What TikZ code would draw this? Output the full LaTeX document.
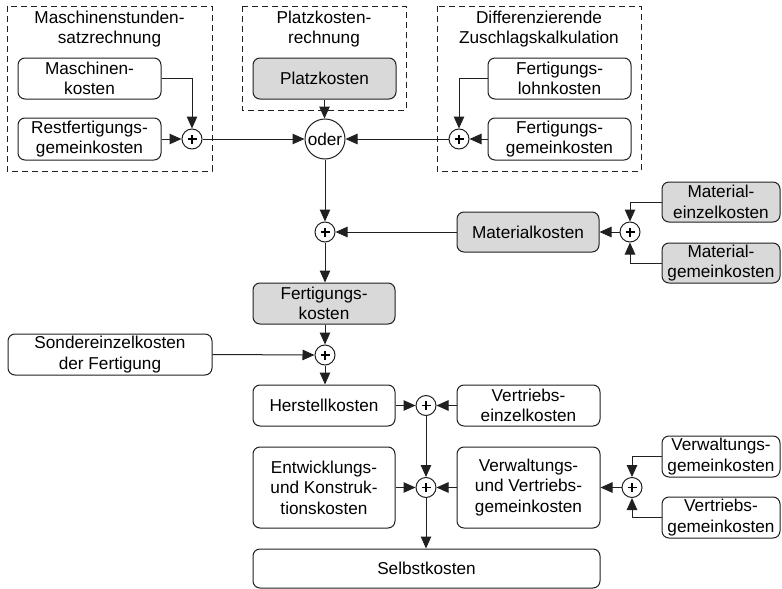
\documentclass[tikz,border=0pt]{standalone}
\usepackage{fontspec}
\setmainfont{Liberation Sans}
\usetikzlibrary{arrows.meta}
\definecolor{boxgray}{HTML}{D9D9D9}
\definecolor{linegray}{HTML}{202020}
\begin{document}
\begin{tikzpicture}[x=1pt,y=-1pt,
  every node/.style={font=\fontsize{17.2}{20.5}\selectfont, text=black},
  kbox/.style={draw=linegray, line width=1pt, rounded corners=7pt, align=center,
               inner sep=0pt, fill=white},
  gbox/.style={kbox, fill=boxgray},
  plus/.style={draw=linegray, line width=1pt, circle, minimum size=20pt, inner sep=0pt,
               fill=white,
               path picture={\draw[line width=1.5pt, black]
                 ([xshift=-4.5pt]path picture bounding box.center) -- ([xshift=4.5pt]path picture bounding box.center)
                 ([yshift=-4.5pt]path picture bounding box.center) -- ([yshift=4.5pt]path picture bounding box.center);}},
  group/.style={draw=linegray, line width=1pt, dash pattern=on 6pt off 4pt},
  title/.style={align=center, inner sep=0pt},
  conn/.style={draw=linegray, line width=1pt, -{Triangle[length=12pt,width=10.5pt]}},
]
\useasboundingbox (0,0) rectangle (782,589);

% dashed group frames with their titles
\draw[group] (7,6) rectangle (212,171);
\draw[group] (242,6) rectangle (406,110);
\draw[group] (437,6) rectangle (641,171);
\node[title] (t1) at (109.5,29) {Maschinenstunden-\\satzrechnung};
\node[title] (t2) at (324,29) {Platzkosten-\\rechnung};
\node[title] (t3) at (539,29) {Differenzierende\\Zuschlagskalkulation};

% cost boxes
\node[kbox, minimum width=143pt, minimum height=41pt] (mk) at (89.5,78.5) {Maschinen-\\kosten};
\node[kbox, minimum width=143pt, minimum height=42pt] (rf) at (89.5,139) {Restfertigungs-\\gemeinkosten};
\node[gbox, minimum width=143pt, minimum height=41pt] (pk) at (324.5,78.5) {Platzkosten};
\node[kbox, minimum width=143pt, minimum height=41pt] (fl) at (559.5,78.5) {Fertigungs-\\lohnkosten};
\node[kbox, minimum width=143pt, minimum height=42pt] (fg) at (559.5,139) {Fertigungs-\\gemeinkosten};

\node[gbox, minimum width=142pt, minimum height=40pt] (mat) at (528,232) {Materialkosten};
\node[gbox, minimum width=118pt, minimum height=40pt] (me) at (721,202) {Material-\\einzelkosten};
\node[gbox, minimum width=118pt, minimum height=40pt] (mg) at (721,263) {Material-\\gemeinkosten};

\node[gbox, minimum width=142pt, minimum height=41pt] (fk) at (324,303.5) {Fertigungs-\\kosten};
\node[kbox, minimum width=204pt, minimum height=41pt] (sk) at (110,354.5) {Sondereinzelkosten\\der Fertigung};

\node[kbox, minimum width=142pt, minimum height=41pt] (hk) at (324,405.5) {Herstellkosten};
\node[kbox, minimum width=143pt, minimum height=41pt] (ve) at (528.5,405.5) {Vertriebs-\\einzelkosten};
\node[kbox, minimum width=142pt, minimum height=81pt] (ek) at (324,487.5) {Entwicklungs-\\und Konstruk-\\tionskosten};
\node[kbox, minimum width=143pt, minimum height=81pt] (vv) at (528.5,487.5) {Verwaltungs-\\und Vertriebs-\\gemeinkosten};
\node[kbox, minimum width=118pt, minimum height=41pt] (vg) at (721,456.5) {Verwaltungs-\\gemeinkosten};
\node[kbox, minimum width=118pt, minimum height=41pt] (vt) at (721,517.5) {Vertriebs-\\gemeinkosten};
\node[kbox, minimum width=347pt, minimum height=39pt] (sel) at (426.5,568.5) {Selbstkosten};

% summation points
\node[plus] (p1) at (192,139) {};
\node[draw=linegray, line width=1pt, circle, minimum size=40pt, inner sep=0pt, fill=white] (oder) at (325,139) {oder};
\node[plus] (p3) at (459,139) {};
\node[plus] (p4) at (325,232) {};
\node[plus] (p5) at (630,232) {};
\node[plus] (p6) at (325,355) {};
\node[plus] (p7) at (426,405.5) {};
\node[plus] (p8) at (426,487.5) {};
\node[plus] (p9) at (632,487.5) {};

% connectors
\draw[conn] (mk.east) -| (p1.north);
\draw[conn] (rf.east) -- (p1.west);
\draw[conn] (p1.east) -- (oder.west);
\draw[conn] (pk.south) -- (pk.south |- oder.north);
\draw[conn] (fl.west) -| (p3.north);
\draw[conn] (fg.west) -- (p3.east);
\draw[conn] (p3.west) -- (oder.east);
\draw[conn] (oder.south) -- (p4.north);
\draw[conn] (mat.west) -- (p4.east);
\draw[conn] (p5.west) -- (mat.east);
\draw[conn] (me.west) -| (p5.north);
\draw[conn] (mg.west) -| (p5.south);
\draw[conn] (p4.south) -- (p4.south |- fk.north);
\draw[conn] (fk.south -| p6) -- (p6.north);
\draw[conn] (sk.east) -- (p6.west);
\draw[conn] (p6.south) -- (p6.south |- hk.north);
\draw[conn] (hk.east) -- (p7.west);
\draw[conn] (ve.west) -- (p7.east);
\draw[conn] (p7.south) -- (p8.north);
\draw[conn] (ek.east) -- (p8.west);
\draw[conn] (vv.west) -- (p8.east);
\draw[conn] (p9.west) -- (vv.east);
\draw[conn] (vg.west) -| (p9.north);
\draw[conn] (vt.west) -| (p9.south);
\draw[conn] (p8.south) -- (p8.south |- sel.north);
\end{tikzpicture}
\end{document}
